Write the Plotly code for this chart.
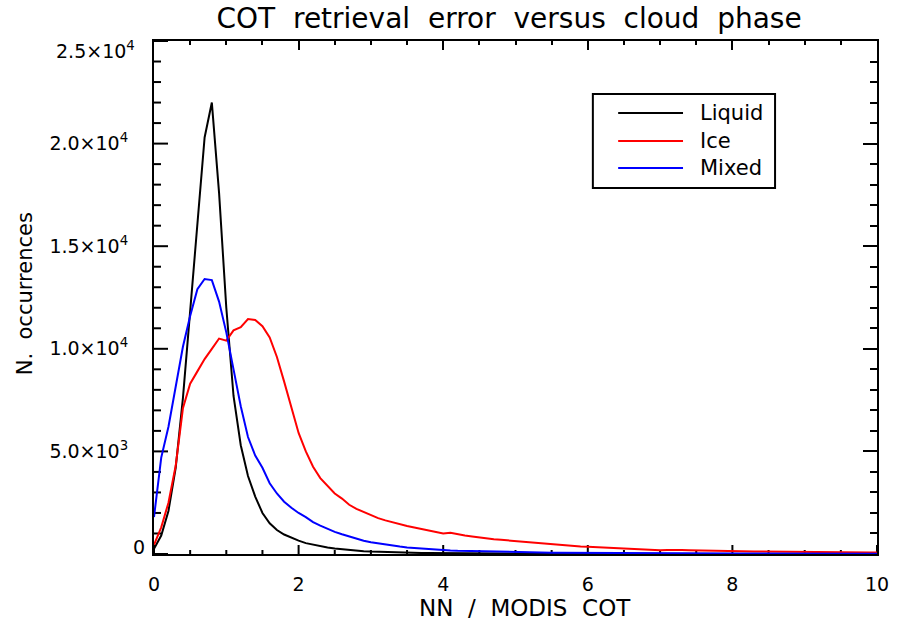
import plotly.graph_objects as go

# Ratio bins (NN / MODIS COT), 0.0 .. 10.0 in steps of 0.1
ratio = [round(i * 0.1, 1) for i in range(101)]

liquid = [
    250, 900, 2100, 4200, 7600, 11700, 15900, 20300, 22000, 17600,
    12000, 7700, 5300, 3800, 2800, 2000, 1500, 1170, 950, 780,
    650, 530, 450, 380, 320, 270, 230, 195, 165, 140,
    120, 105, 92, 80, 70, 62, 55, 48, 43, 38,
    34, 31, 28, 26, 24, 22, 20, 19, 18, 17,
    16, 15, 14, 14, 13, 12, 12, 11, 11, 10,
    10, 9, 9, 9, 8, 8, 8, 7, 7, 7,
    6, 6, 6, 6, 5, 5, 5, 5, 5, 4,
    4, 4, 4, 4, 4, 3, 3, 3, 3, 3,
    3, 3, 3, 3, 2, 2, 2, 2, 2, 2,
    2,
]

ice = [
    450, 1300, 2500, 4300, 7100, 8300, 8900, 9500, 10000, 10500,
    10400, 10900, 11050, 11450, 11400, 11100, 10550, 9600, 8400, 7200,
    5900, 5000, 4250, 3700, 3300, 2950, 2700, 2400, 2200, 2050,
    1880, 1750, 1640, 1540, 1440, 1360, 1290, 1220, 1150, 1090,
    1000, 1030, 950, 900, 850, 800, 760, 720, 690, 660,
    620, 590, 560, 520, 480, 450, 440, 420, 390, 360,
    350, 330, 310, 300, 290, 280, 260, 230, 210, 190,
    180, 190, 200, 190, 180, 170, 160, 165, 160, 150,
    150, 140, 130, 125, 120, 115, 110, 100, 100, 95,
    93, 92, 90, 88, 86, 84, 82, 80, 78, 76,
    75,
]

mixed = [
    1800, 4700, 6200, 8100, 10100, 11600, 12900, 13400, 13350, 12300,
    10800, 9000, 7200, 5700, 4800, 4200, 3450, 2950, 2550, 2250,
    2000, 1800, 1550, 1380, 1220, 1080, 960, 850, 750, 650,
    570, 510, 460, 400, 360, 320, 290, 260, 230, 210,
    190, 175, 160, 150, 138, 127, 118, 110, 102, 95,
    88, 83, 78, 73, 69, 65, 61, 58, 55, 52,
    49, 47, 45, 43, 41, 39, 37, 36, 34, 33,
    32, 31, 30, 29, 28, 27, 26, 25, 24, 24,
    23, 22, 22, 21, 21, 20, 20, 19, 19, 18,
    18, 17, 17, 17, 16, 16, 16, 15, 15, 15,
    14,
]

phases = ["Liquid", "Ice", "Mixed"]
colors = ["#000000", "#ff0000", "#0000ff"]

x_range = [0, 10]
y_range = [0, 25000]
x_ticks = [0, 2, 4, 6, 8, 10]
x_ticktext = ["0", "2", "4", "6", "8", "10"]
y_ticks = [0, 5000, 10000, 15000, 20000, 25000]
y_ticktext = ["0", "5.0×10<sup>3</sup>", "1.0×10<sup>4</sup>",
              "1.5×10<sup>4</sup>", "2.0×10<sup>4</sup>", "2.5×10<sup>4</sup>"]
x_minor_step = 0.5
y_minor_step = 1000

FONT = "DejaVu Sans"
TICKFONT = dict(size=19, color="black", family=FONT)

# Plot-area size in pixels, used to turn tick lengths into data units
PLOT_W, PLOT_H = 901 - 154 - 24, 625 - 41 - 71
px_x = (x_range[1] - x_range[0]) / PLOT_W
px_y = (y_range[1] - y_range[0]) / PLOT_H

fig = go.Figure()

# Inward ticks along the bottom and left edges, built as one line trace
tx, ty = [], []
n_xminor = int(round((x_range[1] - x_range[0]) / x_minor_step))
for i in range(n_xminor + 1):
    v = x_range[0] + i * x_minor_step
    length = 9 if any(abs(v - t) < 1e-9 for t in x_ticks) else 4
    tx += [v, v, None]
    ty += [y_range[0], y_range[0] + length * px_y, None]
n_yminor = int(round((y_range[1] - y_range[0]) / y_minor_step))
for i in range(n_yminor + 1):
    v = y_range[0] + i * y_minor_step
    length = 14 if v in y_ticks else 7
    tx += [x_range[0], x_range[0] + length * px_x, None]
    ty += [v, v, None]
fig.add_trace(go.Scatter(x=tx, y=ty, mode="lines", line=dict(color="black", width=2),
                         showlegend=False, hoverinfo="skip", connectgaps=False))

for name, ys, col in zip(phases, [liquid, ice, mixed], colors):
    fig.add_trace(go.Scatter(x=ratio, y=ys, mode="lines", name=name,
                             line=dict(color=col, width=2), showlegend=False))
# Empty trace that anchors the top/right tick-only axes
fig.add_trace(go.Scatter(x=[], y=[], xaxis="x2", yaxis="y2", showlegend=False,
                         hoverinfo="skip"))

# Hand-built legend box in the upper right of the plot area
leg_x0, leg_x1, leg_y0, leg_y1 = 0.607, 0.859, 0.7135, 0.8967
fig.add_shape(type="rect", xref="paper", yref="paper",
              x0=leg_x0, x1=leg_x1, y0=leg_y0, y1=leg_y1,
              line=dict(color="black", width=2), fillcolor="white", layer="above")
row_y = [0.8597, 0.805, 0.7524]
annotations = []
for name, col, ry in zip(phases, colors, row_y):
    fig.add_shape(type="line", xref="paper", yref="paper",
                  x0=0.642, x1=0.7317, y0=ry, y1=ry,
                  line=dict(color=col, width=2), layer="above")
    annotations.append(dict(x=0.752, y=ry, xref="paper", yref="paper",
                            text=name, showarrow=False, xanchor="left",
                            yanchor="middle", font=dict(size=21, color="black", family=FONT)))

# End labels of the y axis sit slightly inside the frame
annotations.append(dict(x=0, y=y_ticks[0], xref="paper", yref="y", text=y_ticktext[0],
                        showarrow=False, xanchor="right", yanchor="middle", xshift=-7,
                        yshift=7, font=TICKFONT))
annotations.append(dict(x=0, y=y_ticks[-1], xref="paper", yref="y", text=y_ticktext[-1],
                        showarrow=False, xanchor="right", yanchor="middle", xshift=-17,
                        yshift=-9, font=TICKFONT))

# Axis titles
annotations.append(dict(x=0.513, y=-0.105, xref="paper", yref="paper",
                        text="NN&nbsp; /&nbsp; MODIS&nbsp; COT", showarrow=False,
                        xanchor="center", yanchor="middle",
                        font=dict(size=23, color="black", family=FONT)))
annotations.append(dict(x=-0.178, y=0.507, xref="paper", yref="paper",
                        text="N.&nbsp; occurrences", showarrow=False, textangle=-90,
                        xanchor="center", yanchor="middle",
                        font=dict(size=21, color="black", family=FONT)))

base = dict(showline=True, linecolor="black", linewidth=2,
            tickcolor="black", tickwidth=2, showgrid=False, zeroline=False,
            tickfont=TICKFONT)


def minor_ticks(step, length):
    return dict(dtick=step, ticks="inside", ticklen=length, tickwidth=2,
                tickcolor="black", showgrid=False)


fig.update_layout(
    width=901, height=625,
    margin=dict(l=154, r=24, t=41, b=71),
    paper_bgcolor="white", plot_bgcolor="white",
    font=dict(family=FONT, color="black"),
    title=dict(text="COT&nbsp; retrieval&nbsp; error&nbsp; versus&nbsp; cloud&nbsp; phase",
               x=0.565, xanchor="center",
               y=0.971, yanchor="middle", xref="container", yref="container",
               font=dict(size=28, color="black", family=FONT)),
    # labelled axes
    xaxis=dict(range=x_range, tickvals=x_ticks, ticktext=x_ticktext, ticks="",
               ticklabelstandoff=12, **base),
    yaxis=dict(range=y_range, tickvals=y_ticks,
               ticktext=[""] + y_ticktext[1:-1] + [""], ticks="",
               ticklabelstandoff=20, **base),
    # top / right frame ticks
    xaxis2=dict(range=x_range, overlaying="x", side="top", anchor="y2",
                tickvals=x_ticks, showticklabels=False, ticks="inside", ticklen=9,
                minor=minor_ticks(x_minor_step, 4), **base),
    yaxis2=dict(range=y_range, overlaying="y", side="right", anchor="x2",
                tickvals=y_ticks, showticklabels=False, ticks="inside", ticklen=14,
                minor=minor_ticks(y_minor_step, 7), **base),
    annotations=annotations,
)

fig.write_html("out.html")
